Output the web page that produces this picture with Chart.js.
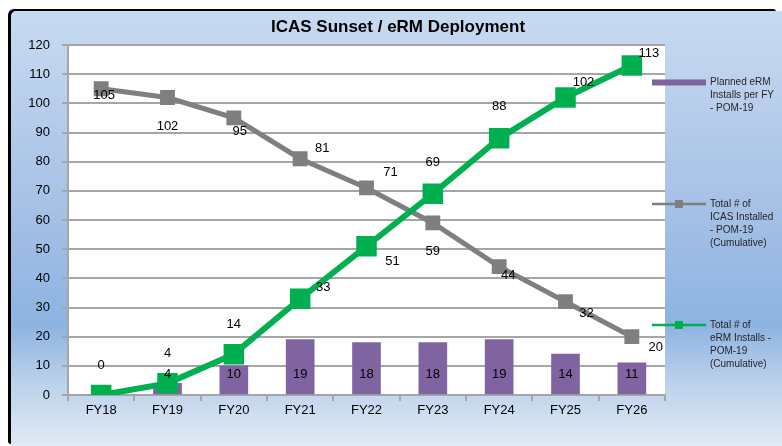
<!DOCTYPE html>
<html>
<head>
<meta charset="utf-8">
<script src="https://cdn.jsdelivr.net/npm/chart.js@4.4.1/dist/chart.umd.min.js"></script>
<style>
  html, body { margin: 0; padding: 0; background: #ffffff; }
  #wrap { position: relative; width: 782px; height: 446px; }
</style>
</head>
<body>
<div id="wrap"><canvas id="c" width="782" height="446"></canvas></div>
<script>
// ---- Data ----
const categories = ['FY18', 'FY19', 'FY20', 'FY21', 'FY22', 'FY23', 'FY24', 'FY25', 'FY26'];
const plannedInstalls = [0, 4, 10, 19, 18, 18, 19, 14, 11];
const icasInstalled = [105, 102, 95, 81, 71, 59, 44, 32, 20];
const ermInstalls = [0, 4, 14, 33, 51, 69, 88, 102, 113];
const yMin = 0, yMax = 120, yStep = 10;
const chartTitle = 'ICAS Sunset / eRM Deployment';
const plannedLegend = ['Planned eRM', 'Installs per FY', '- POM-19'];
const icasLegend = ['Total # of', 'ICAS Installed', '- POM-19', '(Cumulative)'];
const ermLegend = ['Total # of', 'eRM Installs -', 'POM-19', '(Cumulative)'];

// ---- Styling / placement (not data) ----
const FONT = "'Liberation Sans', Arial, sans-serif";
const PURPLE = '#8064a2', GRAY = '#7f7f7f', GREEN = '#00b050', GRID = '#a6a6a6';
// label offsets (dx, dy) from point centre, per point
const icasLabelOffsets = [[3,7],[0,29],[6,14],[22,-10],[24,-15],[0,29],[9,9],[21,12],[24,11]];
const ermLabelOffsets = [[0,-30],[0,-30],[0,-30],[23,-11],[26,15],[0,-31],[0,-32],[18,-15],[17,-12]];

const framePlugin = {
  id: 'frame',
  beforeDraw(chart) {
    const ctx = chart.ctx;
    const W = chart.width, H = chart.height;
    ctx.save();
    ctx.fillStyle = '#ffffff';
    ctx.fillRect(0, 0, W, H);
    // dark frame edge (top and left only)
    ctx.fillStyle = '#000000';
    ctx.beginPath();
    ctx.roundRect(8, 9, 768, 435, [6, 3, 0, 3]);
    ctx.fill();
    // gradient body
    const g = ctx.createLinearGradient(0, 11, 0, 446);
    g.addColorStop(0, '#c8daf1');
    g.addColorStop(0.45, '#a6c1e6');
    g.addColorStop(0.72, '#8db3e1');
    g.addColorStop(0.86, '#bdd2ec');
    g.addColorStop(1, '#e1eaf5');
    ctx.fillStyle = g;
    ctx.beginPath();
    ctx.roundRect(11, 11, 771, 435, [5, 0, 0, 0]);
    ctx.fill();
    // plot area
    const a = chart.chartArea;
    ctx.fillStyle = '#ffffff';
    ctx.fillRect(a.left, a.top, a.right - a.left, a.bottom - a.top);
    // title
    ctx.fillStyle = '#000000';
    ctx.font = 'bold 17px ' + FONT;
    ctx.textAlign = 'center';
    ctx.textBaseline = 'middle';
    ctx.fillText(chartTitle, 398, 27);
    ctx.restore();
  }
};

const labelPlugin = {
  id: 'valueLabels',
  afterDatasetsDraw(chart) {
    const ctx = chart.ctx;
    ctx.save();
    ctx.font = '13px ' + FONT;
    ctx.fillStyle = '#000000';
    ctx.textAlign = 'center';
    ctx.textBaseline = 'middle';
    const yScale = chart.scales.y;
    const base = yScale.getPixelForValue(0);
    chart.getDatasetMeta(0).data.forEach((el, i) => {
      if (i === 0) return;
      ctx.fillText(String(plannedInstalls[i]), el.x, base - 21);
    });
    chart.getDatasetMeta(1).data.forEach((el, i) => {
      const o = icasLabelOffsets[i];
      ctx.fillText(String(icasInstalled[i]), el.x + o[0], el.y + o[1]);
    });
    chart.getDatasetMeta(2).data.forEach((el, i) => {
      const o = ermLabelOffsets[i];
      ctx.fillText(String(ermInstalls[i]), el.x + o[0], el.y + o[1]);
    });
    ctx.restore();
  },
  afterDraw(chart) {
    const ctx = chart.ctx;
    ctx.save();
    const x0 = 652, x1 = 706, tx = 710, lh = 13;
    ctx.font = '10px ' + FONT;
    ctx.textAlign = 'left';
    ctx.textBaseline = 'middle';
    let y = 82.5;
    ctx.fillStyle = PURPLE;
    ctx.fillRect(x0, y - 3, x1 - x0, 6);
    ctx.fillStyle = '#262626';
    plannedLegend.forEach((t, k) => ctx.fillText(t, tx, y + k * lh));
    y = 204;
    ctx.strokeStyle = GRAY; ctx.lineWidth = 2.5;
    ctx.beginPath(); ctx.moveTo(x0, y); ctx.lineTo(x1, y); ctx.stroke();
    ctx.fillStyle = GRAY; ctx.fillRect(675, y - 4, 8, 8);
    ctx.fillStyle = '#262626';
    icasLegend.forEach((t, k) => ctx.fillText(t, tx, y + k * lh));
    y = 325;
    ctx.strokeStyle = GREEN; ctx.lineWidth = 2.5;
    ctx.beginPath(); ctx.moveTo(x0, y); ctx.lineTo(x1, y); ctx.stroke();
    ctx.fillStyle = GREEN; ctx.fillRect(675, y - 4, 8, 8);
    ctx.fillStyle = '#262626';
    ermLegend.forEach((t, k) => ctx.fillText(t, tx, y + k * lh));
    ctx.restore();
  }
};

Chart.defaults.font.family = FONT;
Chart.defaults.font.size = 13;
Chart.defaults.color = '#000000';

new Chart(document.getElementById('c'), {
  type: 'bar',
  data: {
    labels: categories,
    datasets: [
      {
        type: 'bar',
        label: plannedLegend.join(' '),
        data: plannedInstalls,
        backgroundColor: PURPLE,
        borderWidth: 0,
        barThickness: 28,
        order: 3
      },
      {
        type: 'line',
        label: icasLegend.join(' '),
        data: icasInstalled,
        borderColor: GRAY,
        backgroundColor: GRAY,
        borderWidth: 5,
        pointStyle: 'rect',
        pointRadius: 10.5,
        pointBorderWidth: 0,
        pointBackgroundColor: GRAY,
        tension: 0,
        order: 2
      },
      {
        type: 'line',
        label: ermLegend.join(' '),
        data: ermInstalls,
        borderColor: GREEN,
        backgroundColor: GREEN,
        borderWidth: 6,
        pointStyle: 'rect',
        pointRadius: 14.5,
        pointBorderWidth: 0,
        pointBackgroundColor: GREEN,
        tension: 0,
        order: 1
      }
    ]
  },
  options: {
    responsive: false,
    animation: false,
    events: [],
    layout: { padding: { top: 45, left: 10, right: 117, bottom: 0 } },
    plugins: {
      legend: { display: false },
      title: { display: false },
      tooltip: { enabled: false }
    },
    scales: {
      x: {
        type: 'category',
        offset: true,
        grid: { offset: true, drawOnChartArea: false, drawTicks: true, tickLength: 6, color: GRID, lineWidth: 2 },
        border: { display: true, color: GRID, width: 2 },
        ticks: { padding: 2, color: '#000000', font: { size: 13 } },
        afterFit(s) { s.height = 51; }
      },
      y: {
        min: yMin,
        max: yMax,
        grid: { color: GRID, lineWidth: 2, tickLength: 6, drawTicks: true },
        border: { display: true, color: GRID, width: 2 },
        ticks: { stepSize: yStep, padding: 12, color: '#000000', font: { size: 13 } },
        afterFit(s) { s.width = 58; }
      }
    }
  },
  plugins: [framePlugin, labelPlugin]
});
</script>
</body>
</html>
